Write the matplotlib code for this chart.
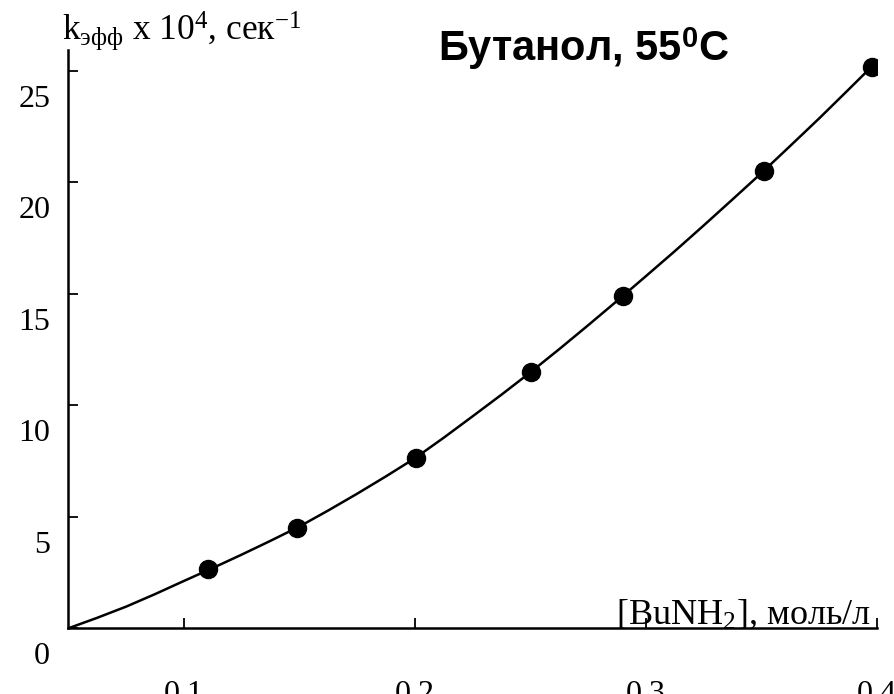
import matplotlib
matplotlib.use("Agg")
import matplotlib.pyplot as plt
import matplotlib.transforms as mtransforms

plt.rcParams['mathtext.fontset'] = 'custom'
plt.rcParams['mathtext.rm'] = 'Liberation Serif'
plt.rcParams['mathtext.it'] = 'Liberation Serif:italic'
plt.rcParams['mathtext.bf'] = 'Liberation Sans:bold'

# data points
conc = [0.1104, 0.149, 0.2004, 0.2505, 0.2902, 0.3514, 0.3979]
kobs = [2.65, 4.51, 7.62, 11.51, 14.90, 20.51, 25.18]

# fitted curve
curve_x = [0.05, 0.0625, 0.075, 0.0875, 0.10, 0.1125, 0.125, 0.1375, 0.15,
           0.1625, 0.175, 0.1875, 0.20, 0.2125, 0.225, 0.2375, 0.25, 0.2625,
           0.275, 0.2875, 0.30, 0.3125, 0.325, 0.3375, 0.35, 0.3625, 0.375,
           0.3875, 0.40]
curve_y = [0.0, 0.47, 0.97, 1.53, 2.12, 2.70, 3.30, 3.92, 4.56,
           5.28, 6.03, 6.81, 7.62, 8.54, 9.50, 10.47, 11.47, 12.51,
           13.58, 14.67, 15.78, 16.90, 18.05, 19.22, 20.40, 21.62, 22.85,
           24.12, 25.40]

xticks = [0.1, 0.2, 0.3, 0.4]
xtick_labels = ["0.1", "0.2", "0.3", "0.4"]
yticks = [0, 5, 10, 15, 20, 25]
ytick_labels = ["0", "5", "10", "15", "20", "25"]

title = "Бутанол, 55$^{\\mathbf{0}}$C"
ylabel = "k$_{\\mathrm{эфф}}$ x 10$^{4}$, сек$^{-1}$"
xlabel = "[BuNH$_{2}$], моль/л"

fig = plt.figure(figsize=(8.95, 6.94), dpi=100)
ax = fig.add_axes([68.3 / 895, 65.7 / 694, (876.6 - 68.3) / 895, (628.3 - 50) / 694])

ax.plot(curve_x, curve_y, color='black', lw=1.8, solid_capstyle='round',
        solid_joinstyle='round', zorder=2)
ax.plot(conc, kobs, 'o', color='black', ms=13, zorder=3)

ax.set_xlim(0.05, 0.40)
ax.set_ylim(0, 25.93)
for s in ['top', 'right']:
    ax.spines[s].set_visible(False)
for s in ['left', 'bottom']:
    ax.spines[s].set_linewidth(1.8)

ax.set_xticks(xticks)
ax.set_xticklabels(xtick_labels)
ax.set_yticks(yticks)
ax.set_yticklabels(ytick_labels)
ax.tick_params(axis='both', direction='in', length=7, width=1.3,
               labelsize=23, labelfontfamily='Liberation Serif')
ax.tick_params(axis='x', pad=37)
ax.tick_params(axis='y', pad=13)
for lab in ax.get_yticklabels():
    lab.set_transform(lab.get_transform() +
                      mtransforms.ScaledTranslation(0, -0.25, fig.dpi_scale_trans))

fig.text(62 / 895, 1 - 40 / 694, ylabel, fontsize=25.5, family='Liberation Serif',
         ha='left', va='baseline')
fig.text(871 / 895, 1 - 624 / 694, xlabel, fontsize=26, family='Liberation Serif',
         ha='right', va='baseline')
fig.text(584 / 895, 1 - 61 / 694, title, fontsize=30, family='Liberation Sans',
         fontweight='bold', ha='center', va='baseline')

fig.savefig("out.png", dpi=100)
